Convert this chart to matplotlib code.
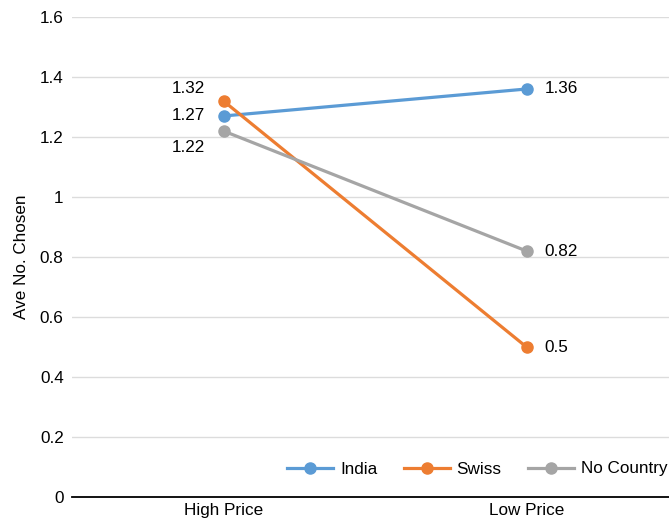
import matplotlib.pyplot as plt

plt.rcParams['font.family'] = ['Liberation Sans', 'DejaVu Sans']

categories = ['High Price', 'Low Price']
series = ['India', 'Swiss', 'No Country']
values = {
    'India': [1.27, 1.36],
    'Swiss': [1.32, 0.50],
    'No Country': [1.22, 0.82],
}
colors = {'India': '#5b9bd5', 'Swiss': '#ed7d31', 'No Country': '#a5a5a5'}
fs = 12.3

fig = plt.figure(figsize=(6.69, 5.25), dpi=100)
ax = fig.add_axes([72 / 669, 28 / 525, 606 / 669, 480 / 525])

x = range(len(categories))
for name in series:
    ax.plot(x, values[name], '-o', color=colors[name], lw=2.3, ms=8,
            label=name, zorder=3)

# value labels: left column sits left of the points, right column to the right
left_offsets = {'India': (-13, 0), 'Swiss': (-13, 9), 'No Country': (-13, -12)}
for name in series:
    v0, v1 = values[name]
    dx, dy = left_offsets[name]
    ax.annotate(f'{v0:g}', (0, v0), xytext=(dx, dy), textcoords='offset points',
                ha='right', va='center', fontsize=fs)
    ax.annotate(f'{v1:g}', (1, v1), xytext=(13, 0), textcoords='offset points',
                ha='left', va='center', fontsize=fs)

ax.set_xlim(-0.5, 1.5)
ax.set_ylim(0, 1.6)
ax.set_yticks([0, 0.2, 0.4, 0.6, 0.8, 1.0, 1.2, 1.4, 1.6])
ax.set_yticklabels(['0', '0.2', '0.4', '0.6', '0.8', '1', '1.2', '1.4', '1.6'])
ax.set_xticks(list(x))
ax.set_xticklabels(categories)
ax.tick_params(length=0, labelsize=fs, pad=6)
ax.tick_params(axis='x', pad=4)
ax.grid(axis='y', color='#dcdcdc', lw=1)
ax.set_axisbelow(True)
for s in ['left', 'right', 'top']:
    ax.spines[s].set_visible(False)
ax.spines['bottom'].set_color('black')
ax.spines['bottom'].set_linewidth(1.3)
ax.spines['bottom'].set_zorder(4)
ax.set_ylabel('Ave No. Chosen', fontsize=fs, labelpad=8)

ax.legend(loc='center left', bbox_to_anchor=(287 / 669, 1 - 469 / 525),
          bbox_transform=fig.transFigure, ncol=3, frameon=False,
          fontsize=fs, handlelength=2.7, handletextpad=0.4,
          columnspacing=1.55, borderaxespad=0, borderpad=0)

fig.savefig('out.png', dpi=100)
